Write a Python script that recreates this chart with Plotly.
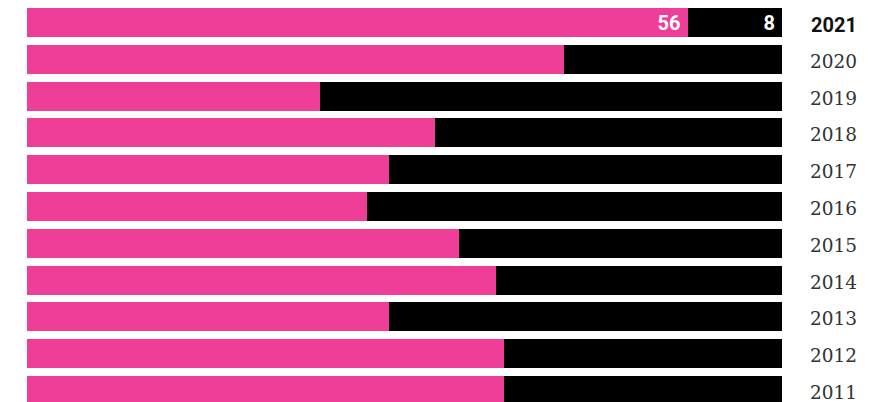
import plotly.graph_objects as go

years = [2011, 2012, 2013, 2014, 2015, 2016, 2017, 2018, 2019, 2020, 2021]
pink_values = [63.2, 63.2, 47.9, 62.1, 57.2, 45.0, 47.9, 54.0, 38.8, 71.1, 56]
black_values = [36.8, 36.8, 52.1, 37.9, 42.8, 55.0, 52.1, 46.0, 61.2, 28.9, 8]
pink_labels = ["", "", "", "", "", "", "", "", "", "", "56"]
black_labels = ["", "", "", "", "", "", "", "", "", "", "8"]
year_labels = ["2011", "2012", "2013", "2014", "2015", "2016", "2017", "2018", "2019", "2020", "2021"]

PINK = "#EF3E97"
BLACK = "#000000"

fig = go.Figure()
for vals, labels, color in [(pink_values, pink_labels, PINK), (black_values, black_labels, BLACK)]:
    fig.add_trace(go.Bar(
        y=years, x=vals, orientation="h", width=0.788,
        marker=dict(color=color, line=dict(width=0)),
        text=[t + "\u2009" if t else "" for t in labels],
        textposition="inside", insidetextanchor="end", textangle=0,
        constraintext="none",
        textfont=dict(family="Roboto", size=20, color="white", weight="bold"),
        hoverinfo="skip", showlegend=False,
    ))

annotations = []
for y, lab in zip(years, year_labels):
    bold = (y == 2021)
    annotations.append(dict(
        xref="paper", yref="y", x=1 + 77 / 755, y=y, xanchor="right", yanchor="middle",
        yshift=-2,
        text=f"<b>{lab}</b>" if bold else lab, showarrow=False,
        font=dict(family="Roboto" if bold else "DejaVu Serif", size=20 if bold else 18.5,
                  color="#111111" if bold else "#333333"),
    ))

fig.update_layout(
    width=861, height=394,
    margin=dict(l=19, r=87, t=0, b=0),
    barmode="stack", barnorm="percent",
    plot_bgcolor="white", paper_bgcolor="white",
    xaxis=dict(range=[0, 100], visible=False, fixedrange=True),
    yaxis=dict(range=[2010.687, 2021.394], visible=False, fixedrange=True),
    annotations=annotations,
)

fig.write_html("out.html")
